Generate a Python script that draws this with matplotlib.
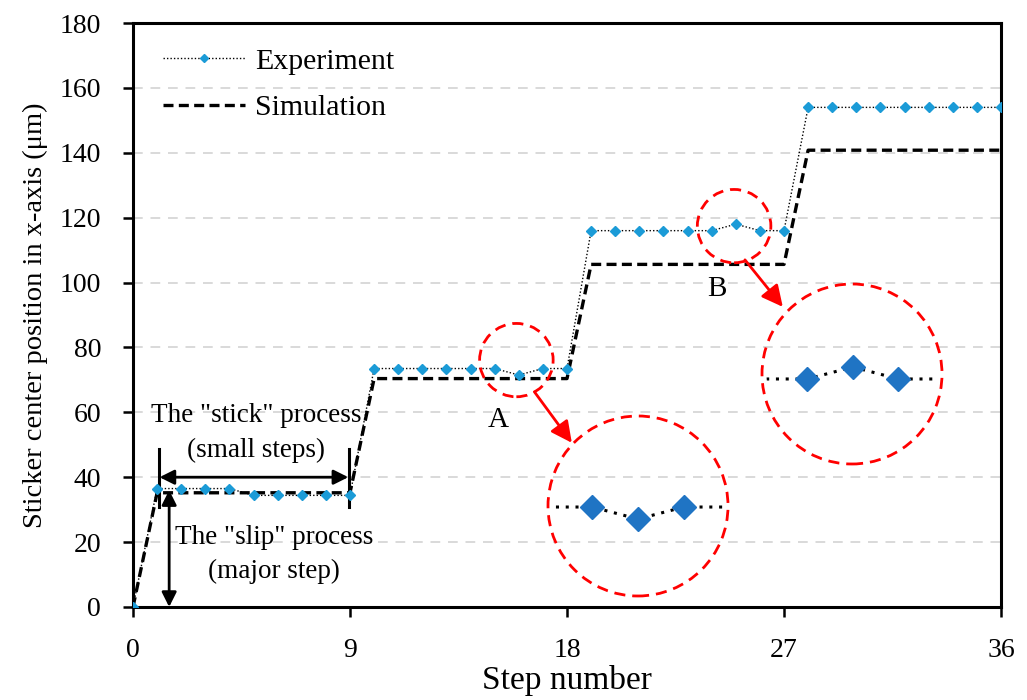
import matplotlib.pyplot as plt
from matplotlib.patches import Circle, Ellipse
import numpy as np

plt.rcParams['font.family'] = ['Liberation Serif', 'DejaVu Serif']

# data
steps = np.arange(37)
experiment = [0,
              36.5, 36.5, 36.5, 36.5, 34.4, 34.4, 34.4, 34.4, 34.4,
              73.5, 73.5, 73.5, 73.5, 73.5, 73.5, 71.5, 73.5, 73.5,
              116, 116, 116, 116, 116, 116, 118, 116, 116,
              154, 154, 154, 154, 154, 154, 154, 154, 154]
simulation = [0,
              35.2, 35.2, 35.2, 35.2, 35.2, 35.2, 35.2, 35.2, 35.2,
              70.4, 70.4, 70.4, 70.4, 70.4, 70.4, 70.4, 70.4, 70.4,
              105.6, 105.6, 105.6, 105.6, 105.6, 105.6, 105.6, 105.6, 105.6,
              140.8, 140.8, 140.8, 140.8, 140.8, 140.8, 140.8, 140.8, 140.8]
x_ticks = [0, 9, 18, 27, 36]
y_ticks = list(range(0, 181, 20))

exp_blue = '#1B9BD7'
zoom_blue = '#1F74C4'

fig = plt.figure(figsize=(10.27, 7.0), dpi=100)
ax = fig.add_axes([0.1295, 0.1329, 0.8452, 0.8342])

ax.plot(steps, experiment, color='black', ls=(0, (1, 1.5)), lw=1.0,
        marker='D', ms=5, mfc=exp_blue, mec=exp_blue, label='Experiment', zorder=3)
ax.plot(steps, simulation, color='black', ls=(0, (3, 1.6)), lw=2.4,
        label='Simulation', zorder=2)

ax.set_xlim(0, 36)
ax.set_ylim(0, 180)
ax.set_xticks(x_ticks)
ax.set_yticks(y_ticks)
ax.tick_params(labelsize=20, width=1.8, length=7, direction='out')
ax.tick_params(axis='x', pad=15)
ax.tick_params(axis='y', pad=16)
for s in ax.spines.values():
    s.set_linewidth(2.2)
ax.yaxis.grid(True, color='#d9d9d9', ls=(0, (5, 4)), lw=1.4)
ax.set_axisbelow(True)
ax.set_xlabel('Step number', fontsize=24)
ax.xaxis.set_label_coords(0.5, -0.099)
ax.set_ylabel('Sticker center position in x-axis (μm)', fontsize=20.5, labelpad=8)

leg = ax.legend(loc='upper left', frameon=False, fontsize=21.5, handlelength=2.75,
                labelspacing=0.65, borderaxespad=0.3, bbox_to_anchor=(0.01, 0.993),
                markerscale=0.8, handletextpad=0.35)

# stick / slip annotations
fs = 19.5
ax.text(5.1, 59, 'The "stick" process', ha='center', va='center', fontsize=fs)
ax.text(5.1, 48.3, '(small steps)', ha='center', va='center', fontsize=fs)
ax.text(5.85, 21.3, 'The "slip" process', ha='center', va='center', fontsize=fs)
ax.text(5.85, 10.9, '(major step)', ha='center', va='center', fontsize=fs)
ax.plot([1.08, 1.08], [30.8, 48.7], color='black', lw=2.2)
ax.plot([8.95, 8.95], [30.8, 48.7], color='black', lw=2.2)
ax.annotate('', xy=(1.1, 40), xytext=(8.93, 40),
            arrowprops=dict(arrowstyle='<|-|>', color='black', lw=2, mutation_scale=22,
                            shrinkA=0, shrinkB=0))
ax.annotate('', xy=(1.5, 36), xytext=(1.5, 0),
            arrowprops=dict(arrowstyle='<|-|>', color='black', lw=2, mutation_scale=22,
                            shrinkA=0, shrinkB=0))

# highlighted regions A and B
ax.text(15.15, 57.5, 'A', ha='center', va='center', fontsize=21)
ax.text(24.2, 98, 'B', ha='center', va='center', fontsize=21)
for cx, cy in [(15.9, 76.1), (24.93, 117.4)]:
    ax.add_patch(Ellipse((cx, cy), 3.05, 22.6, fill=False, ec='#ff0000',
                         lw=2, ls=(0, (4, 2.5)), zorder=4))
ax.annotate('', xy=(18.2, 50.6), xytext=(16.65, 66.3),
            arrowprops=dict(arrowstyle='-|>', color='#ff0000', lw=2, mutation_scale=32,
                            shrinkA=0, shrinkB=0))
ax.annotate('', xy=(26.95, 92.5), xytext=(25.38, 107.0),
            arrowprops=dict(arrowstyle='-|>', color='#ff0000', lw=2, mutation_scale=32,
                            shrinkA=0, shrinkB=0))

# magnified insets
insets = [
    ([548 / 1027, 1 - 596 / 700, 180 / 1027, 180 / 700], (14.04, 17.96), (58.67, 88.67), [15, 16, 17]),
    ([762 / 1027, 1 - 464 / 700, 180 / 1027, 180 / 700], (23.0, 26.96), (101.83, 131.83), [24, 25, 26]),
]
for pos, xl, yl, pts in insets:
    ins = fig.add_axes(pos)
    ins.set_xlim(*xl)
    ins.set_ylim(*yl)
    ins.axis('off')
    ins.patch.set_alpha(0)
    clip = Circle((0.5, 0.5), 0.475, transform=ins.transAxes)
    line, = ins.plot(steps, experiment, color='black', ls=(0, (1, 2.2)), lw=2.2, zorder=2)
    line.set_clip_path(clip)
    ins.plot(steps, experiment, ls='none', marker='D', ms=12, mfc=zoom_blue,
             mec=zoom_blue, markevery=pts, zorder=3)
    ins.add_patch(Circle((0.5, 0.5), 0.5, transform=ins.transAxes, fill=False,
                         ec='#ff0000', lw=2, ls=(0, (4, 2.5)), clip_on=False))

fig.savefig('out.png', dpi=100)
